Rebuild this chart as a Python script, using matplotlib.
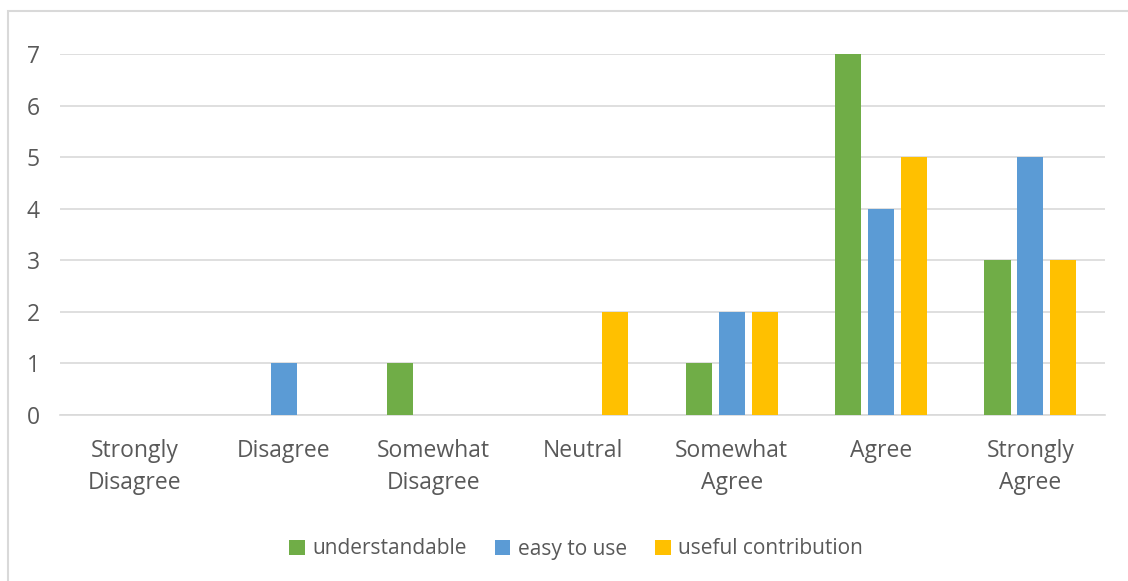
import matplotlib.pyplot as plt
import matplotlib
from matplotlib.patches import Rectangle
import numpy as np

matplotlib.rcParams['font.family'] = ['Open Sans', 'DejaVu Sans']

# 数据
categories = ["Strongly\nDisagree", "Disagree", "Somewhat\nDisagree", "Neutral",
              "Somewhat\nAgree", "Agree", "Strongly\nAgree"]
understandable = [0, 0, 1, 0, 1, 7, 3]
easy_to_use = [0, 1, 0, 0, 2, 4, 5]
useful_contribution = [0, 0, 0, 2, 2, 5, 3]

series = [
    ("understandable", understandable, "#70AD47"),
    ("easy to use", easy_to_use, "#5B9BD5"),
    ("useful contribution", useful_contribution, "#FFC000"),
]

text_color = "#595959"
grid_color = "#D9D9D9"

fig = plt.figure(figsize=(11.28, 5.81), dpi=100)
ax = fig.add_axes([60 / 1128, 1 - 415 / 581, 1045 / 1128, 361 / 581])

x = np.arange(len(categories))
width = 0.175
step = 0.22
for i, (name, vals, color) in enumerate(series):
    ax.bar(x + (i - 1) * step, vals, width=width, color=color, label=name, zorder=3)

ax.set_xlim(-0.5, len(categories) - 0.5)
ax.set_ylim(0, 7)
ax.set_yticks(range(0, 8))
ax.set_xticks(x)
ax.set_xticklabels(categories, linespacing=1.47)
ax.tick_params(axis='both', length=0, labelsize=16.5, colors=text_color)
ax.tick_params(axis='x', pad=17)
for lbl in ax.get_yticklabels():
    lbl.set_horizontalalignment('left')
ax.yaxis.set_tick_params(pad=24)

ax.grid(axis='y', color=grid_color, linewidth=1.2, zorder=0)
for s in ['top', 'right', 'left']:
    ax.spines[s].set_visible(False)
ax.spines['bottom'].set_color(grid_color)
ax.spines['bottom'].set_linewidth(1.2)

# 外边框
fig.patches.append(Rectangle((8 / 1128, -0.1), 1.2, (581 - 11) / 581 + 0.1,
                             transform=fig.transFigure, fill=False,
                             edgecolor=grid_color, linewidth=1.5))

fig.legend(loc='center', bbox_to_anchor=(576 / 1128, 1 - 549 / 581), ncol=3,
           frameon=False, fontsize=15, labelcolor=text_color,
           handlelength=0.75, handleheight=0.75, handletextpad=0.35,
           columnspacing=1.35)

fig.savefig("out.png", dpi=100)
